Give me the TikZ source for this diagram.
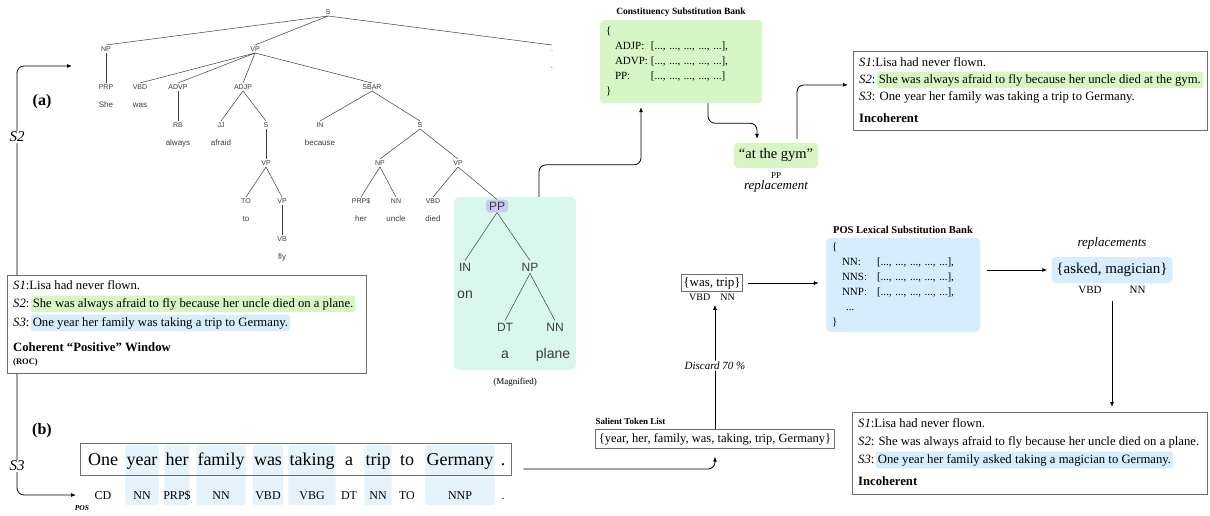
\documentclass[tikz,border=0pt]{standalone}
\usepackage{fontspec}
\setmainfont{Liberation Serif}
\setsansfont{Liberation Sans}
\usetikzlibrary{arrows.meta,positioning}
\pgfdeclarelayer{background}
\pgfsetlayers{background,main}

\definecolor{hlgreen}{RGB}{214,247,197}
\definecolor{hlblue}{RGB}{214,237,253}
\definecolor{colblue}{RGB}{229,243,253}
\definecolor{mint}{RGB}{217,247,237}
\definecolor{lav}{RGB}{199,203,240}
\definecolor{treegray}{RGB}{60,60,60}
\definecolor{boxgray}{RGB}{110,110,110}

\newcommand{\fsz}[1]{\fontsize{#1}{#1}\selectfont}

\tikzset{
  treetag/.style={font=\sffamily\fsz{7}, text=treegray, inner sep=1.3pt, text height=5pt, text depth=0pt},
  treeleaf/.style={font=\sffamily\fsz{8}, text=treegray, inner sep=1pt},
  magtag/.style={font=\sffamily\fsz{12}, text=treegray, inner sep=2pt, text height=8.6pt, text depth=0pt},
  magleaf/.style={font=\sffamily\fsz{14}, text=treegray, inner sep=1pt},
  treeline/.style={draw=treegray, line width=0.5pt},
  arr/.style={-{Latex[length=5pt,width=4pt]}, line width=0.8pt, rounded corners=7pt},
  winbox/.style={draw=boxgray, line width=0.8pt, inner sep=0pt},
  wtxt/.style={font=\fsz{12.7}, inner sep=0pt, anchor=base west},
  hlt/.style={font=\fsz{12.7}, rounded corners=2.5pt, inner xsep=2pt, inner ysep=2.5pt, anchor=base west},
  bankbox/.style={rounded corners=4pt, align=left, font={\fontsize{11}{15}\selectfont}, inner xsep=6pt},
  sentword/.style={font=\fsz{18}, anchor=base, inner xsep=1pt, inner ysep=0pt},
  sentpos/.style={font=\fsz{12}, anchor=base, inner sep=0pt},
}

\begin{document}
\begin{tikzpicture}[x=1pt,y=-1pt]
\useasboundingbox (0,0) rectangle (1210,515);

% parse tree
\node[fill=mint, rounded corners=5pt, minimum width=122pt, minimum height=173pt] (mag) at (515,283.5) {};
\node[treetag] (s0) at (328,12) {S};
\node[treetag] (np1) at (106,49) {NP};
\node[treetag] (vp1) at (255,49) {VP};
\node[treetag] (pu1) at (552,49) {.};
\node[treeleaf] (pu2) at (552,68) {.};
\node[treetag] (prp) at (106,87) {PRP};
\node[treetag] (vbd1) at (140,87) {VBD};
\node[treetag] (advp) at (178,87) {ADVP};
\node[treetag] (adjp) at (243,87) {ADJP};
\node[treetag] (sbar) at (372,87) {SBAR};
\node[treeleaf] (she) at (106,105) {She};
\node[treeleaf] (was) at (140,105) {was};
\node[treetag] (rb) at (178,125) {RB};
\node[treetag] (jj) at (221,125) {JJ};
\node[treetag] (sa) at (266,125) {S};
\node[treetag] (in1) at (320,125) {IN};
\node[treetag] (sb) at (420,125) {S};
\node[treeleaf] (always) at (178,143) {always};
\node[treeleaf] (afraid) at (221,143) {afraid};
\node[treeleaf] (because) at (320,143) {because};
\node[treetag] (vpa) at (266,163) {VP};
\node[treetag] (np2) at (380,163) {NP};
\node[treetag] (vpc) at (458,163) {VP};
\node[treetag] (to1) at (246,201) {TO};
\node[treetag] (vpb) at (282,201) {VP};
\node[treetag] (prps) at (361,201) {PRP\$};
\node[treetag] (nn1) at (396,201) {NN};
\node[treetag] (vbd2) at (433,201) {VBD};
\node[treeleaf] (to2) at (246,219) {to};
\node[treeleaf] (her) at (361,219) {her};
\node[treeleaf] (uncle) at (396,219) {uncle};
\node[treeleaf] (died) at (433,219) {died};
\node[treetag] (vb) at (282,239) {VB};
\node[treeleaf] (fly) at (282,257) {fly};
\node[magtag, fill=lav, rounded corners=3pt, inner xsep=3pt] (pp) at (497,206) {PP};
\node[magtag] (in2) at (465,267) {IN};
\node[magtag] (np3) at (530,267) {NP};
\node[magleaf] (on) at (465,295) {on};
\node[magtag] (dt) at (505,327) {DT};
\node[magtag] (nn2) at (555,327) {NN};
\node[magleaf] (art) at (505,355) {a};
\node[magleaf] (plane) at (553,355) {plane};
\foreach \a/\b in {s0/np1, s0/vp1, s0/pu1, np1/prp, vp1/vbd1, vp1/advp, vp1/adjp, vp1/sbar,
    advp/rb, adjp/jj, adjp/sa, sa/vpa, vpa/to1, vpa/vpb, vpb/vb, sbar/in1, sbar/sb,
    sb/np2, sb/vpc, np2/prps, np2/nn1, vpc/vbd2, vpc/pp, pp/in2, pp/np3, np3/dt, np3/nn2}
  \draw[treeline] (\a.south) -- (\b.north);
\node[font=\fsz{9}, below=7pt of mag, inner sep=1pt] (magcap) {(Magnified)};

% coherent window
\node[winbox, minimum width=359pt, minimum height=98pt, anchor=north west] (winA) at (7,275) {};
\node[wtxt] (a1) at (13,289) {\textit{S1}:Lisa had never flown.};
\node[wtxt] (a2) at (13,307) {\textit{S2}:};
\node[hlt, fill=hlgreen] (a2h) at ([xshift=1pt]a2.base east) {She was always afraid to fly because her uncle died on a plane.};
\node[wtxt] (a3) at (13,326) {\textit{S3}:};
\node[hlt, fill=hlblue] (a3h) at ([xshift=1pt]a3.base east) {One year her family was taking a trip to Germany.};
\node[wtxt, font=\bfseries\fsz{12.7}] (a4) at (13,351) {Coherent ``Positive'' Window};
\node[wtxt, font=\bfseries\fsz{8.5}] (a5) at (13,364) {(ROC)};

\coordinate (s2tip) at (72,66);
\coordinate (s3tip) at (76,495);
\draw[arr] ([xshift=10pt]winA.north west) |- (s2tip);
\draw[arr] ([xshift=10pt]winA.south west) |- (s3tip);
\node[font=\itshape\fsz{15}, fill=white, inner sep=1pt] (s2lab) at (17,137) {S2};
\node[font=\itshape\fsz{15}, fill=white, inner sep=1pt] (s3lab) at (17,466) {S3};
\node[font=\bfseries\fsz{16}] (parta) at (42,102) {(a)};
\node[font=\bfseries\fsz{16}] (partb) at (42,431) {(b)};

% constituency substitution
\node[bankbox, fill=hlgreen, text width=150pt, minimum height=83pt] (cbank) at (681,61.5)
  {\{\\
   \hspace*{9pt}\makebox[36pt][l]{ADJP:}[..., ..., ..., ..., ...],\\
   \hspace*{9pt}\makebox[36pt][l]{ADVP:}[..., ..., ..., ..., ...],\\
   \hspace*{9pt}\makebox[36pt][l]{PP:}[..., ..., ..., ..., ...]\\
   \}};
\node[above=2pt of cbank, font=\bfseries\fsz{9.5}, inner sep=1pt] (ctitle) {Constituency Substitution Bank};
\node[fill=hlgreen, rounded corners=4pt, font=\fsz{14.5}, minimum width=84pt, minimum height=25pt] (gym) at (776,155.5) {``at the gym''};
\node[below=3pt of gym, font=\fsz{9}, inner sep=1pt] (gymtag) {PP};
\node[below=0pt of gymtag, font=\itshape\fsz{13}, inner sep=1pt] (gymrep) {replacement};
\node[winbox, minimum width=354pt, minimum height=79pt, anchor=north west] (winB) at (853,51) {};
\node[wtxt] (b1) at (859,66) {\textit{S1}:Lisa had never flown.};
\node[wtxt] (b2) at (859,83) {\textit{S2}:};
\node[hlt, fill=hlgreen] (b2h) at ([xshift=1pt]b2.base east) {She was always afraid to fly because her uncle died at the gym.};
\node[wtxt] (b3) at (859,100) {\textit{S3}: One year her family was taking a trip to Germany.};
\node[wtxt, font=\bfseries\fsz{12.7}] (b4) at (859,122) {Incoherent};
\draw[arr] ([xshift=24pt]mag.north) -- ++(0,-32) -| ([shift={(-40pt,-4pt)}]cbank.south);
\draw[arr] ([xshift=27pt]cbank.south) -- ++(0,20) -| ([shift={(-19pt,4pt)}]gym.north);
\draw[arr] ([shift={(21pt,4pt)}]gym.north) |- ([shift={(-5pt,6pt)}]winB.west);

% sentence and POS tags
\coordinate (coltop) at (0,445);
\coordinate (colbot) at (0,505);
\node[winbox, minimum width=431pt, minimum height=32pt] (sent) at (295.5,459) {};
\foreach \w/\x/\t/\h [count=\i] in {One/103/CD/0, year/142/NN/1, her/177/PRP\$/1, family/221/NN/1,
    was/268/VBD/1, taking/312/VBG/1, a/349/DT/0, trip/378/NN/1, to/407/TO/0, Germany/460/NNP/1, ./503/./0}
{
  \node[sentword] (w\i) at (\x,465) {\w};
  \node[sentpos] (t\i) at (\x,499) {\t};
  \ifnum\h=1
    \begin{pgfonlayer}{background}
      \fill[colblue, rounded corners=2pt] (w\i.west |- coltop) rectangle (w\i.east |- colbot);
    \end{pgfonlayer}
  \fi
}
\node[font=\bfseries\itshape\fsz{7.5}] (poslab) at (82,508) {POS};

% lexical substitution
\node[winbox, font=\fsz{12.5}, inner xsep=3pt, inner ysep=3.5pt] (sal) at (715,439) {\{year, her, family, was, taking, trip, Germany\}};
\node[anchor=south west, font=\bfseries\fsz{9}, inner sep=0pt] (saltitle) at ([yshift=5pt]sal.north west) {Salient Token List};
\node[winbox, font=\fsz{13}, inner xsep=2pt, inner ysep=2.5pt] (wt) at (712,283) {\{was, trip\}};
\node[below=1pt of wt, font=\fsz{10}, inner sep=1pt] (wtpos) {VBD\quad NN};
\node[bankbox, fill=hlblue, text width=142pt, minimum height=94pt] (pbank) at (903,285)
  {\{\\
   \hspace*{10pt}\makebox[35pt][l]{NN:}[..., ..., ..., ..., ...],\\
   \hspace*{10pt}\makebox[35pt][l]{NNS:}[..., ..., ..., ..., ...],\\
   \hspace*{10pt}\makebox[35pt][l]{NNP:}[..., ..., ..., ..., ...],\\
   \hspace*{14pt}...\\
   \}};
\node[above=3pt of pbank, font=\bfseries\fsz{10.5}, inner sep=1pt] (ptitle) {POS Lexical Substitution Bank};
\node[fill=hlblue, rounded corners=4pt, font=\fsz{15}, minimum width=121pt, minimum height=26pt] (am) at (1112,270) {\{asked, magician\}};
\node[above=6pt of am, font=\itshape\fsz{13}, inner sep=1pt] (repls) {replacements};
\node[below=2pt of am, font=\fsz{11}, inner sep=1pt] (amtag) {VBD\hspace{28pt}NN};
\node[winbox, minimum width=355pt, minimum height=82pt, anchor=north west] (winC) at (852,412) {};
\node[wtxt] (c1) at (858,427) {\textit{S1}:Lisa had never flown.};
\node[wtxt] (c2) at (858,445) {\textit{S2}: She was always afraid to fly because her uncle died on a plane.};
\node[wtxt] (c3) at (858,463) {\textit{S3}:};
\node[hlt, fill=hlblue] (c3h) at ([xshift=1pt]c3.base east) {One year her family asked taking a magician to Germany.};
\node[wtxt, font=\bfseries\fsz{12.7}] (c4) at (858,485) {Incoherent};

\draw[arr] ([shift={(12pt,-10pt)}]sent.east) -| ([yshift=-8pt]sal.south);
\draw[arr, shorten >=3pt] (sal.north) -- (sal.north |- wtpos.south)
  node[midway, fill=white, font=\itshape\fsz{11}, inner sep=1pt] (disc) {Discard 70 \%};
\draw[arr, shorten <=5pt, shorten >=7pt] (wt.east) -- (wt.east -| pbank.west);
\draw[arr, shorten <=7pt, shorten >=4pt] (pbank.east |- am.west) -- (am.west);
\draw[arr, shorten <=6pt, shorten >=5pt] (amtag.south) -- (amtag.south |- winC.north);
\end{tikzpicture}
\end{document}
